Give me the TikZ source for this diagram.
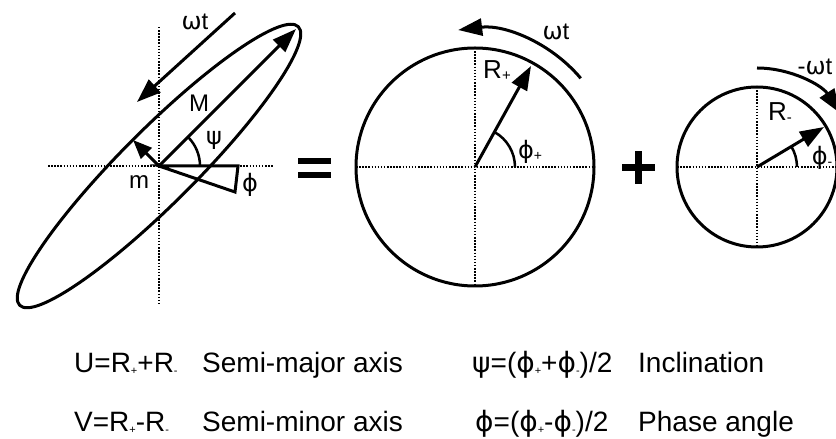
\documentclass[tikz,border=0pt]{standalone}
\usepackage{fontspec}
\setmainfont{Liberation Sans}
\newfontfamily\grk{DejaVu Sans}
\usetikzlibrary{arrows.meta}
\newcommand{\mysub}[2][11]{\raisebox{-2pt}{\fontsize{#1}{#1}\selectfont #2}}
\begin{document}
\begin{tikzpicture}[x=1pt,y=1pt,
  lw/.style={line width=3pt},
  dotl/.style={line width=1.5pt, dash pattern=on 1.5pt off 1.6pt},
  bigarr/.style={line width=3pt, -{Triangle[length=24pt,width=17pt]}},
  smallarr/.style={line width=3pt, -{Triangle[length=19pt,width=15pt]}},
  lab/.style={inner sep=0pt, font=\fontsize{24}{24}\selectfont},
  txt/.style={inner sep=0pt, anchor=base west, font=\fontsize{28}{28}\selectfont}]
\useasboundingbox (0,0) rectangle (836,439);
\clip (0,0) rectangle (836,439);

% ---------- ellipse ----------
\coordinate (O1) at (159,273);
\coordinate (v1t) at (159,412); \coordinate (v1b) at (159,136);
\coordinate (h1l) at (48,273);  \coordinate (h1r) at (274,273);
\draw[dotl] (v1t) -- (v1b);
\draw[dotl] (h1l) -- (h1r);
\draw[lw, rotate around={45:(O1)}] (O1) ellipse [x radius=197pt, y radius=37pt];
\coordinate (Mtip) at (296,410);
\coordinate (mtip) at (133,299);
\draw[bigarr] (O1) -- (Mtip);
\draw[smallarr] (O1) -- (mtip);
\coordinate (w1s) at (235,426); \coordinate (w1e) at (137,337);
\draw[bigarr] (w1s) -- (w1e);
\draw[line width=2.5pt] (O1) ++(41,0) arc[start angle=0, end angle=45, radius=41pt];
\coordinate (wa) at (238,273); \coordinate (wb) at (235,247);
\draw[lw, line join=miter] (O1) -- (wa) -- (wb) -- cycle;
\node[lab] (lwt1) at (195,417) {{\grk ω}t};
\node[lab] (lM) at (199,336) {M};
\node[lab] (lm) at (139,257) {m};
\node[lab] (lpsi) at (214,299) {\grk ψ};
\node[lab] (lphi) at (250,254) {\grk ϕ};

% ---------- equals ----------
\fill (298,275.25) rectangle (331,280.75);
\fill (298,261.25) rectangle (331,266.75);

% ---------- circle 1 ----------
\coordinate (C1) at (475,272);
\draw[dotl] (475,391) -- (475,153);
\draw[dotl] (356,272) -- (594,272);
\draw[lw] (C1) circle[radius=119pt];
\coordinate (Rp) at (531,373);
\draw[bigarr] (C1) -- (Rp);
\draw[line width=2.5pt] (C1) ++(40,0) arc[start angle=0, end angle=61, radius=40pt];
\draw[bigarr] (C1) ++(40:138) arc[start angle=40, end angle=97, radius=138pt];
\node[lab, font=\fontsize{26}{26}\selectfont] (lRp) at (497,368) {R\mysub[15]{+}};
\node[lab] (lphip) at (530,287) {{\grk ϕ}\mysub[14]{+}};
\node[lab] (lwt2) at (556,407) {{\grk ω}t};

% ---------- plus ----------
\fill (622,268) rectangle (655,275);
\fill (635,255) rectangle (642,288);

% ---------- circle 2 ----------
\coordinate (C2) at (757,272);
\draw[dotl] (757,352) -- (757,192);
\draw[dotl] (677,272) -- (836,272);
\draw[lw] (C2) circle[radius=80pt];
\coordinate (Rm) at (824,312);
\draw[bigarr] (C2) -- (Rm);
\draw[line width=2.5pt] (C2) ++(40,0) arc[start angle=0, end angle=31, radius=40pt];
\draw[bigarr] (C2) ++(90:99) arc[start angle=90, end angle=33, radius=99pt];
\node[lab, font=\fontsize{26}{26}\selectfont] (lRm) at (780,326) {R\mysub[15]{-}};
\node[lab] (lphim) at (822,281) {{\grk ϕ}\mysub[14]{-}};
\node[lab] (lwt3) at (815,372) {-{\grk ω}t};

% ---------- text ----------
\node[txt] (u) at (74,66) {U=R\mysub{+}+R\mysub{-}};
\node[txt] (smaj) at (202,66) {Semi-major axis};
\node[txt] (psi) at (472,66) {{\grk ψ}=({\grk ϕ}\mysub{+}+{\grk ϕ}\mysub{-})/2};
\node[txt] (incl) at (638,66) {Inclination};
\node[txt] (v) at (74,7) {V=R\mysub{+}-R\mysub{-}};
\node[txt] (smin) at (202,7) {Semi-minor axis};
\node[txt] (phi) at (475,7) {{\grk ϕ}=({\grk ϕ}\mysub{+}-{\grk ϕ}\mysub{-})/2};
\node[txt] (phase) at (638,7) {Phase angle};
\end{tikzpicture}
\end{document}
